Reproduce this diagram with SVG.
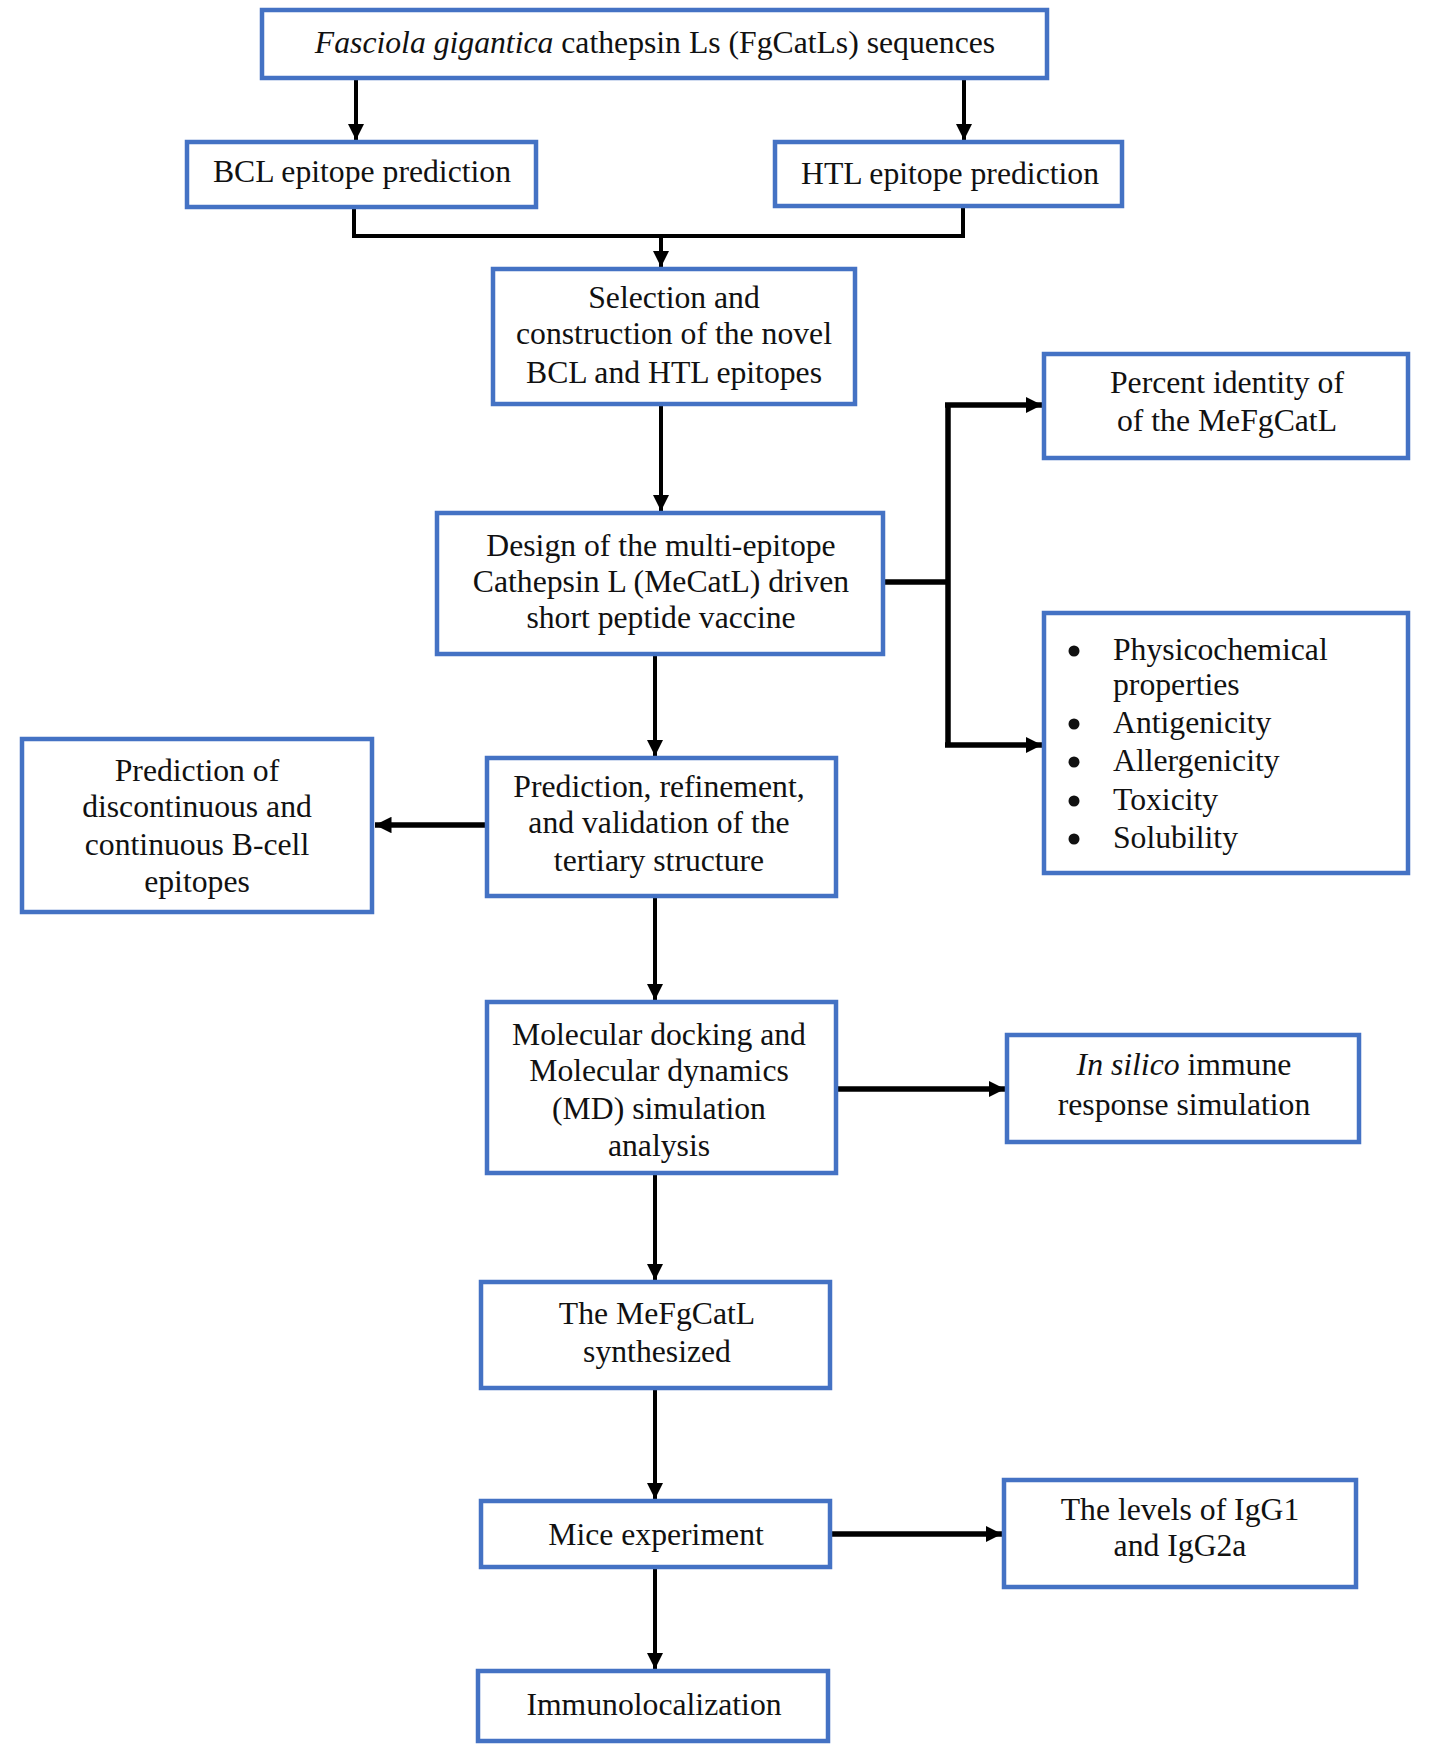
<svg xmlns="http://www.w3.org/2000/svg" width="1432" height="1760" viewBox="0 0 1432 1760">
<defs>
<style>
.box{fill:#ffffff;stroke:#4472C4;stroke-width:4.5}
.t{font-family:"Liberation Serif","Times New Roman",serif;font-size:31.7px;fill:#111111;text-anchor:middle}
.tl{font-family:"Liberation Serif","Times New Roman",serif;font-size:31.7px;fill:#111111}
.thin{fill:none;stroke:#000;stroke-width:4}
.thick{fill:none;stroke:#000;stroke-width:5.5}
</style>
<marker id="ah" viewBox="0 0 10 10" refX="10" refY="5" markerWidth="4" markerHeight="4" markerUnits="strokeWidth" orient="auto">
<path d="M0,0 L10,5 L0,10 Z" fill="#000"/>
</marker>
<marker id="ah2" viewBox="0 0 10 10" refX="10" refY="5" markerWidth="3" markerHeight="3" markerUnits="strokeWidth" orient="auto">
<path d="M0,0 L10,5 L0,10 Z" fill="#000"/>
</marker>
</defs>
<rect width="1432" height="1760" fill="#ffffff"/>
<g id="connectors">
<path class="thin" d="M356,79 V140" marker-end="url(#ah)"/>
<path class="thin" d="M964,79 V140" marker-end="url(#ah)"/>
<path class="thin" d="M354,208 V236 H963 V207"/>
<path class="thin" d="M661,236 V267" marker-end="url(#ah)"/>
<path class="thin" d="M661,405 V511" marker-end="url(#ah)"/>
<path class="thick" d="M883,582 H948"/>
<path class="thick" d="M948,405 V745"/>
<path class="thick" d="M945,405 H1042" marker-end="url(#ah2)"/>
<path class="thick" d="M945,745 H1042" marker-end="url(#ah2)"/>
<path class="thin" d="M655,655 V756" marker-end="url(#ah)"/>
<path class="thick" d="M485,825 H375" marker-end="url(#ah2)"/>
<path class="thin" d="M655,897 V1000" marker-end="url(#ah)"/>
<path class="thick" d="M835,1089 H1005" marker-end="url(#ah2)"/>
<path class="thin" d="M655,1174 V1280" marker-end="url(#ah)"/>
<path class="thin" d="M655,1389 V1499" marker-end="url(#ah)"/>
<path class="thick" d="M830,1534 H1002" marker-end="url(#ah2)"/>
<path class="thin" d="M655,1568 V1669" marker-end="url(#ah)"/>
</g>
<g id="n-sequences">
<rect class="box" x="262" y="10" width="785" height="68"/>
<text class="t" x="655" y="53"><tspan font-style="italic">Fasciola gigantica</tspan> cathepsin Ls (FgCatLs) sequences</text>
</g>
<g id="n-bcl">
<rect class="box" x="187" y="142" width="349" height="65"/>
<text class="t" x="362" y="182">BCL epitope prediction</text>
</g>
<g id="n-htl">
<rect class="box" x="775" y="142" width="347" height="64"/>
<text class="t" x="950" y="184">HTL epitope prediction</text>
</g>
<g id="n-selection">
<rect class="box" x="493" y="269" width="362" height="135"/>
<text class="t" x="674" y="308">Selection and</text>
<text class="t" x="674" y="344">construction of the novel</text>
<text class="t" x="674" y="383">BCL and HTL epitopes</text>
</g>
<g id="n-design">
<rect class="box" x="437" y="513" width="446" height="141"/>
<text class="t" x="661" y="556">Design of the multi-epitope</text>
<text class="t" x="661" y="592">Cathepsin L (MeCatL) driven</text>
<text class="t" x="661" y="628">short peptide vaccine</text>
</g>
<g id="n-percent">
<rect class="box" x="1044" y="354" width="364" height="104"/>
<text class="t" x="1227" y="393">Percent identity of</text>
<text class="t" x="1227" y="431">of the MeFgCatL</text>
</g>
<g id="n-properties">
<rect class="box" x="1044" y="613" width="364" height="260"/>
<g class="tl">
<circle cx="1074" cy="651" r="5.5" fill="#111"/>
<text x="1113" y="660">Physicochemical</text>
<text x="1113" y="695">properties</text>
<circle cx="1074" cy="724" r="5.5" fill="#111"/>
<text x="1113" y="733">Antigenicity</text>
<circle cx="1074" cy="762" r="5.5" fill="#111"/>
<text x="1113" y="771">Allergenicity</text>
<circle cx="1074" cy="801" r="5.5" fill="#111"/>
<text x="1113" y="810">Toxicity</text>
<circle cx="1074" cy="839" r="5.5" fill="#111"/>
<text x="1113" y="848">Solubility</text>
</g>
</g>
<g id="n-tertiary">
<rect class="box" x="487" y="758" width="349" height="138"/>
<text class="t" x="659" y="797">Prediction, refinement,</text>
<text class="t" x="659" y="833">and validation of the</text>
<text class="t" x="659" y="871">tertiary structure</text>
</g>
<g id="n-bcell">
<rect class="box" x="22" y="739" width="350" height="173"/>
<text class="t" x="197" y="781">Prediction of</text>
<text class="t" x="197" y="817">discontinuous and</text>
<text class="t" x="197" y="855">continuous B-cell</text>
<text class="t" x="197" y="892">epitopes</text>
</g>
<g id="n-docking">
<rect class="box" x="487" y="1002" width="349" height="171"/>
<text class="t" x="659" y="1045">Molecular docking and</text>
<text class="t" x="659" y="1081">Molecular dynamics</text>
<text class="t" x="659" y="1119">(MD) simulation</text>
<text class="t" x="659" y="1156">analysis</text>
</g>
<g id="n-insilico">
<rect class="box" x="1007" y="1035" width="352" height="107"/>
<text class="t" x="1184" y="1075"><tspan font-style="italic">In silico</tspan> immune</text>
<text class="t" x="1184" y="1115">response simulation</text>
</g>
<g id="n-synth">
<rect class="box" x="481" y="1282" width="349" height="106"/>
<text class="t" x="657" y="1324">The MeFgCatL</text>
<text class="t" x="657" y="1362">synthesized</text>
</g>
<g id="n-mice">
<rect class="box" x="481" y="1501" width="349" height="66"/>
<text class="t" x="656" y="1545">Mice experiment</text>
</g>
<g id="n-igg">
<rect class="box" x="1004" y="1480" width="352" height="107"/>
<text class="t" x="1180" y="1520">The levels of IgG1</text>
<text class="t" x="1180" y="1556">and IgG2a</text>
</g>
<g id="n-immuno">
<rect class="box" x="478" y="1671" width="350" height="70"/>
<text class="t" x="654" y="1715">Immunolocalization</text>
</g>
</svg>
